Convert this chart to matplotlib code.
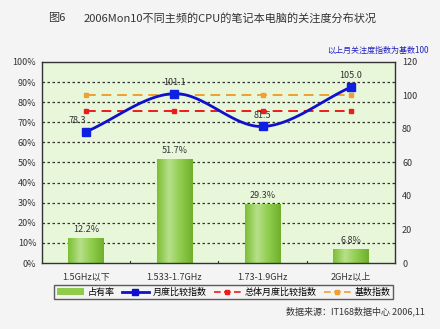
import numpy as np
import matplotlib
matplotlib.use("Agg")
import matplotlib.pyplot as plt
from matplotlib.colors import LinearSegmentedColormap
from matplotlib.lines import Line2D
from matplotlib.patches import Patch

plt.rcParams['font.family'] = ['Noto Sans CJK SC', 'DejaVu Sans']

categories = ["1.5GHz以下", "1.533-1.7GHz", "1.73-1.9GHz", "2GHz以上"]
share = [12.2, 51.7, 29.3, 6.8]                 # 占有率 (%)
monthly_index = [78.3, 101.1, 81.5, 105.0]      # 月度比较指数
overall_index = [91, 91, 91, 91]                # 总体月度比较指数
base_index = [100, 100, 100, 100]               # 基数指数
left_ticks = [0, 10, 20, 30, 40, 50, 60, 70, 80, 90, 100]
right_ticks = [0, 20, 40, 60, 80, 100, 120]


def catmull_rom(xs, ys, n=40):
    """Smooth curve through the given points (Catmull-Rom spline)."""
    xs = np.asarray(xs, float)
    ys = np.asarray(ys, float)
    px = np.concatenate([[2 * xs[0] - xs[1]], xs, [2 * xs[-1] - xs[-2]]])
    py = np.concatenate([[2 * ys[0] - ys[1]], ys, [2 * ys[-1] - ys[-2]]])
    out_x, out_y = [], []
    t = np.linspace(0, 1, n)
    for i in range(1, len(px) - 2):
        for p, out in ((px, out_x), (py, out_y)):
            p0, p1, p2, p3 = p[i - 1], p[i], p[i + 1], p[i + 2]
            seg = 0.5 * ((2 * p1) + (-p0 + p2) * t +
                         (2 * p0 - 5 * p1 + 4 * p2 - p3) * t ** 2 +
                         (-p0 + 3 * p1 - 3 * p2 + p3) * t ** 3)
            out.extend(seg)
    return np.array(out_x), np.array(out_y)


fig = plt.figure(figsize=(4.4, 3.29), dpi=100, facecolor="#f4f4f4")
ax = fig.add_axes([0.095, 0.2006, 0.803, 0.611])
ax.set_facecolor("#e8f6da")
ax.set_xlim(-0.5, 3.5)
ax.set_ylim(0, 100)

# horizontal dotted grid
for v in left_ticks[1:-1]:
    ax.axhline(v, color="#333333", lw=0.9, ls=(0, (2, 2)), zorder=1)

# gradient bars
bar_cmap = LinearSegmentedColormap.from_list(
    "barg", ["#7cbf36", "#b7e08a", "#8fcc4c", "#6fb02c"])
grad = np.linspace(0, 1, 64).reshape(1, -1)
bw = 0.4
x = np.arange(len(categories))
for xi, v in zip(x, share):
    ax.imshow(grad, cmap=bar_cmap, aspect="auto", zorder=2,
              extent=(xi - bw / 2, xi + bw / 2, 0, v), interpolation="bilinear")
    ax.text(xi, v + 2.2, f"{v}%", ha="center", va="bottom", fontsize=6.5,
            color="#333333", zorder=6)
ax.set_xlim(-0.5, 3.5)
ax.set_ylim(0, 100)

ax.set_yticks(left_ticks)
ax.set_yticklabels([f"{v}%" for v in left_ticks], fontsize=6.5, color="#333333")
ax.set_xticks(x)
ax.set_xticklabels(categories, fontsize=6.5, color="#333333")
ax.tick_params(axis="x", length=0, pad=7)
ax.tick_params(axis="y", length=0, pad=4)
for xb in [0.5, 1.5, 2.5]:
    ax.plot([xb, xb], [0, 1.2], color="#333333", lw=0.8, zorder=3)
for s in ax.spines.values():
    s.set_color("#333333")
    s.set_linewidth(1.0)

# index lines on secondary axis
ax2 = ax.twinx()
ax2.set_ylim(0, 120)
ax2.set_yticks(right_ticks)
ax2.set_yticklabels([str(v) for v in right_ticks], fontsize=6.5, color="#333333")
ax2.tick_params(axis="y", length=0, pad=5)
for s in ax2.spines.values():
    s.set_visible(False)

ax2.plot(x, base_index, color="#f0a030", lw=1.4, ls=(0, (5, 3)),
         marker="s", ms=3.5, zorder=4)
ax2.plot(x, overall_index, color="#ee1c1c", lw=1.4, ls=(0, (5, 3)),
         marker="s", ms=3.5, zorder=4)
sx, sy = catmull_rom(x, monthly_index)
ax2.plot(sx, sy, color="#1010cc", lw=2.0, zorder=5)
ax2.plot(x, monthly_index, ls="none", color="#1020e0", marker="s", ms=5.5, zorder=5)
offsets = [(-0.1, 4), (0, 4), (0, 4), (0, 4)]
for xi, v, (dx, dy) in zip(x, monthly_index, offsets):
    ax2.text(xi + dx, v + dy, f"{v:.1f}", ha="center", va="bottom",
             fontsize=6.5, color="#333333", zorder=6)

# legend
handles = [
    Patch(facecolor="#8fcc4c", edgecolor="none"),
    Line2D([], [], color="#1010cc", lw=2.0, marker="s", ms=4.5),
    Line2D([], [], color="#ee1c1c", lw=1.2, ls=(0, (4, 2)), marker="s", ms=3),
    Line2D([], [], color="#f0a030", lw=1.2, ls=(0, (4, 2)), marker="s", ms=3),
]
labels = ["占有率", "月度比较指数", "总体月度比较指数", "基数指数"]
leg = fig.legend(handles, labels, loc="center", bbox_to_anchor=(0.508, 0.112),
                 ncol=4, fontsize=6.5, frameon=True, fancybox=False,
                 handlelength=3.0, handletextpad=0.4, columnspacing=0.8,
                 borderpad=0.3, edgecolor="#333333", facecolor="#f4f4f4")
leg.get_frame().set_linewidth(1.0)

fig.text(0.11, 0.945, "图6", fontsize=8, color="#333333", va="center")
fig.text(0.19, 0.945, "2006Mon10不同主频的CPU的笔记本电脑的关注度分布状况",
         fontsize=8, color="#333333", va="center")
fig.text(0.975, 0.848, "以上月关注度指数为基数100", fontsize=5.8, color="#2020c0",
         ha="right", va="center")
fig.text(0.965, 0.053, "数据来源：IT168数据中心 2006,11", fontsize=6.5,
         color="#333333", ha="right", va="center")

fig.savefig("out.png", dpi=100, facecolor=fig.get_facecolor())
